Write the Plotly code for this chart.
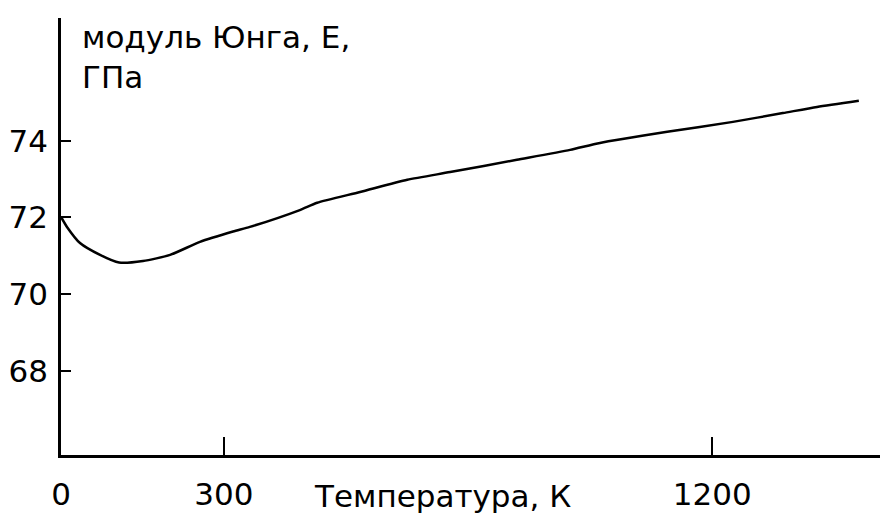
import plotly.graph_objects as go

# Temperature (K) and Young's modulus (GPa)
temperature = [0, 11, 35, 72, 107, 151, 201, 256, 317, 348, 440, 472, 551, 638,
               717, 840, 938, 993, 1117, 1238, 1330, 1393, 1470]
modulus = [72.01, 71.75, 71.33, 71.02, 70.82, 70.86, 71.02, 71.36, 71.63, 71.75,
           72.19, 72.38, 72.66, 72.98, 73.18, 73.50, 73.76, 73.94, 74.23, 74.49,
           74.72, 74.88, 75.04]

x_ticks = [0, 300, 1200]
y_ticks = [68, 70, 72, 74]
x_title = "Температура, К"
y_title_lines = ["модуль Юнга, Е,", "ГПа"]

FONT = "DejaVu Sans, sans-serif"
FS = 31

fig = go.Figure()
fig.add_trace(go.Scatter(
    x=temperature, y=modulus, mode="lines",
    line=dict(color="black", width=2.5, shape="spline", smoothing=0.6),
    showlegend=False, hoverinfo="skip",
))

fig.update_layout(
    width=880, height=516,
    margin=dict(l=61, r=0, t=18, b=61),
    paper_bgcolor="white", plot_bgcolor="white",
    font=dict(family=FONT, color="black", size=FS),
    xaxis=dict(
        range=[0, 1509], showgrid=False, zeroline=False,
        showline=True, linecolor="black", linewidth=2.5,
        tickvals=x_ticks, ticktext=[str(v) for v in x_ticks],
        ticks="inside", ticklen=18, tickwidth=2, tickcolor="black",
        tickfont=dict(size=FS), ticklabelstandoff=10,
    ),
    yaxis=dict(
        range=[65.80, 77.2], showgrid=False, zeroline=False,
        showline=True, linecolor="black", linewidth=2.5,
        tickvals=y_ticks, ticktext=[str(v) for v in y_ticks],
        ticks="inside", ticklen=10, tickwidth=2, tickcolor="black",
        tickfont=dict(size=FS), ticklabelstandoff=4,
    ),
)

fig.add_annotation(
    text=x_title, xref="paper", yref="paper",
    x=(442 - 61) / 819, y=-(496 - 455) / 437,
    xanchor="center", yanchor="middle", showarrow=False,
    font=dict(size=FS),
)
fig.add_annotation(
    text="<br>".join(y_title_lines), xref="paper", yref="paper",
    x=(80 - 61) / 819, y=1 - (57 - 18) / 437,
    xanchor="left", yanchor="middle", align="left", showarrow=False,
    font=dict(size=FS),
)

fig.write_html("out.html")
